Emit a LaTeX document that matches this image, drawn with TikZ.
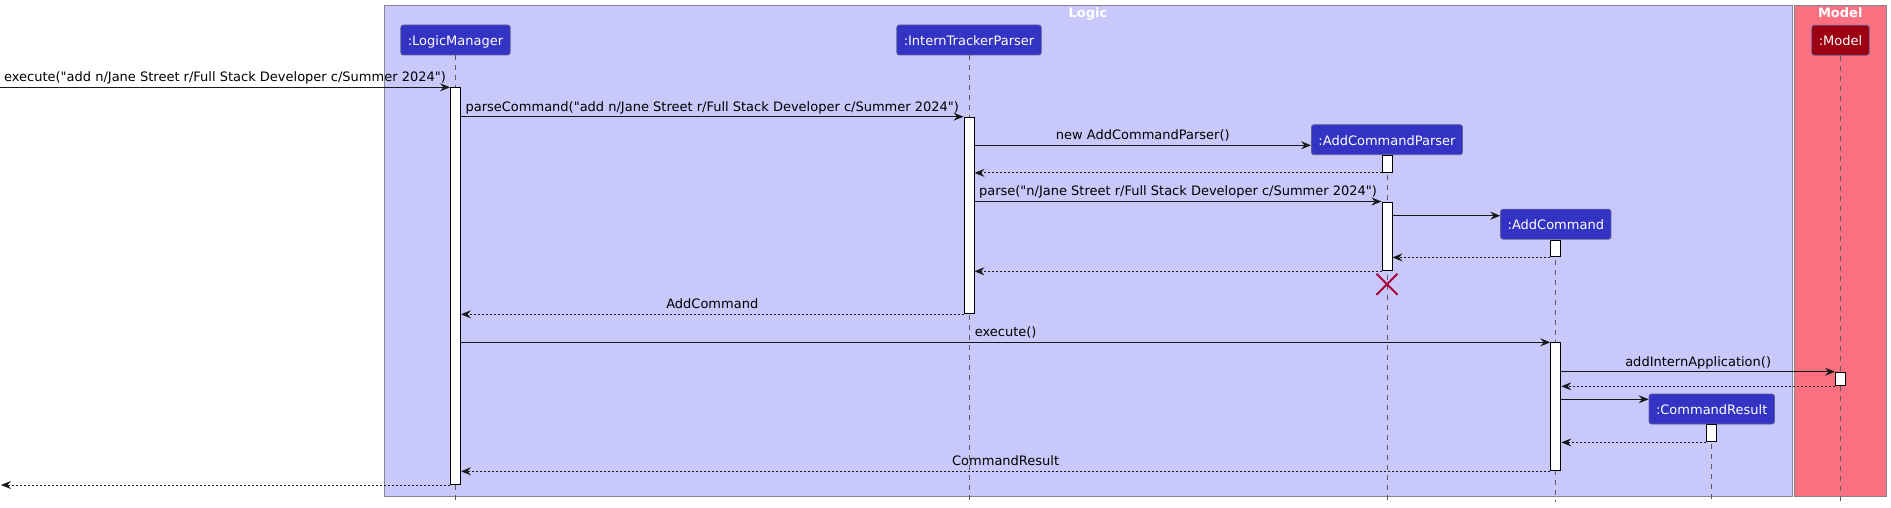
\documentclass[tikz,border=0pt]{standalone}
\usepackage{fontspec}
\setmainfont{DejaVu Sans}
\usetikzlibrary{arrows.meta,shapes.misc}
\definecolor{logicCol}{HTML}{3333C4}
\definecolor{logicBg}{HTML}{C8C8FA}
\definecolor{modelCol}{HTML}{9D0012}
\definecolor{modelBg}{HTML}{F97181}
\definecolor{frameCol}{HTML}{858592}
\definecolor{boxLine}{HTML}{5E5E9A}
\definecolor{lifeCol}{HTML}{5A5A5A}
\definecolor{destroyCol}{HTML}{A80036}
\newcommand{\qq}{\textquotedbl}
\tikzset{
  participant/.style={draw=boxLine, line width=0.8pt, fill=logicCol, text=white,
    rounded corners=2.5pt, minimum height=30pt, inner xsep=7pt,
    text height=11.4pt, text depth=0pt},
  modelpart/.style={participant, fill=modelCol},
  groupbox/.style={draw=frameCol, line width=1pt, inner sep=0pt},
  grouptitle/.style={text=white, font=\fontsize{13}{15}\selectfont\bfseries, anchor=base},
  lifeline/.style={draw=lifeCol, line width=1pt, dash pattern=on 5pt off 5pt},
  activation/.style={draw=black, fill=white, line width=1pt, minimum width=10pt,
    inner sep=0pt, anchor=north},
  call/.style={->, draw=black!90, line width=1pt},
  reply/.style={call, dash pattern=on 2pt off 2pt},
  msglabel/.style={anchor=base, yshift=5.5pt, inner sep=0pt},
  destroy/.style={cross out, draw=destroyCol, line width=2pt, minimum size=19pt, inner sep=0pt},
}
\begin{document}
\begin{tikzpicture}[>={Stealth[length=10pt,width=8pt,inset=3.5pt]},x=1pt,y=-1pt,
  font=\fontsize{13}{15}\selectfont]
\useasboundingbox (0,0) rectangle (1891,508);
%% rows of the messages
\coordinate (r2) at (0,116.7);
\coordinate (r3) at (0,145.3);
\coordinate (r5) at (0,201.5);
\coordinate (r6) at (0,215.7);
\coordinate (rx) at (0,284.3);
\coordinate (r10) at (0,342.3);
\coordinate (r11) at (0,371.7);
\coordinate (r13) at (0,399.3);
\coordinate (edgeIn) at (0,87.3);
\coordinate (edgeOut) at (1,484);
\coordinate (lifeEnd) at (0,501.5);
%% Group: Logic
\node[groupbox, fill=logicBg, minimum width=1408pt, minimum height=490pt] (logicGroup) at (1088,251) {};
\node[grouptitle] at ([yshift=-12.3pt]logicGroup.north) {Logic};
%% Group: Model
\node[groupbox, fill=modelBg, minimum width=92.5pt, minimum height=490pt] (modelGroup) at (1840.25,251) {};
\node[grouptitle] at ([yshift=-12.3pt]modelGroup.north) {Model};
%% Node: participants
\node[participant] (lm) at (455.5,40) {:LogicManager};
\node[participant] (itp) at (969,40) {:InternTrackerParser};
\node[participant] (acp) at (1387,139.7) {:AddCommandParser};
\node[participant] (ac) at (1555.8,224.2) {:AddCommand};
\node[participant] (cr) at (1711.7,409) {:CommandResult};
\node[modelpart] (model) at (1840.5,40.2) {:Model};
%% lifelines
\draw[lifeline] (lm.south) -- (lm.south |- lifeEnd);
\draw[lifeline] (itp.south) -- (itp.south |- lifeEnd);
\draw[lifeline] (acp.south) -- (acp.south |- lifeEnd);
\draw[lifeline] (ac.south) -- (ac.south |- lifeEnd);
\draw[lifeline] (cr.south) -- (cr.south |- lifeEnd);
\draw[lifeline] (model.south) -- (model.south |- lifeEnd);
%% activations
\node[activation, minimum height=396.7pt] (lmAct) at (lm.south |- edgeIn) {};
\node[activation, minimum height=196.6pt] (itpAct) at (itp.south |- r2) {};
\node[activation, minimum height=16.8pt] (acpActA) at (acp.south) {};
\node[activation, minimum height=68.8pt] (acpActB) at (acp.south |- r5) {};
\node[activation, minimum height=16.8pt] (acActA) at (ac.south) {};
\node[activation, minimum height=128pt] (acActB) at (ac.south |- r10) {};
\node[activation, minimum height=13.6pt] (modelAct) at (model.south |- r11) {};
\node[activation, minimum height=17pt] (crAct) at (cr.south) {};
% Edge: in -> LogicManager
\draw[call] (edgeIn) -- node[msglabel] {execute(\qq add n/Jane Street r/Full Stack Developer c/Summer 2024\qq)} (lmAct.north west);
% Edge: LogicManager -> InternTrackerParser
\draw[call] (lmAct.east |- r2) -- node[msglabel] {parseCommand(\qq add n/Jane Street r/Full Stack Developer c/Summer 2024\qq)} (itpAct.north west);
% Edge: InternTrackerParser -> AddCommandParser
\draw[call] (itpAct.east |- r3) -- node[msglabel] {new AddCommandParser()} (acp.west |- r3);
\draw[reply] (acpActA.south west) -- (itpAct.east |- acpActA.south);
\draw[call] (itpAct.east |- r5) -- node[msglabel] {parse(\qq n/Jane Street r/Full Stack Developer c/Summer 2024\qq)} (acpActB.north west);
% Edge: AddCommandParser -> AddCommand
\draw[call] (acpActB.east |- r6) -- (ac.west |- r6);
\draw[reply] (acActA.south west) -- (acpActB.east |- acActA.south);
\draw[reply] (acpActB.south west) -- (itpAct.east |- acpActB.south);
\node[destroy] (acpGone) at (acp.south |- rx) {};
% Edge: InternTrackerParser -> LogicManager
\draw[reply] (itpAct.south west) -- node[msglabel] {AddCommand} (lmAct.east |- itpAct.south);
% Edge: LogicManager -> AddCommand
\draw[call] (lmAct.east |- r10) -- node[msglabel] {execute()} (acActB.north west);
% Edge: AddCommand -> Model
\draw[call] (acActB.east |- r11) -- node[msglabel] {addInternApplication()} (modelAct.north west);
\draw[reply] (modelAct.south west) -- (acActB.east |- modelAct.south);
% Edge: AddCommand -> CommandResult
\draw[call] (acActB.east |- r13) -- (cr.west |- r13);
\draw[reply] (crAct.south west) -- (acActB.east |- crAct.south);
% Edge: AddCommand -> LogicManager
\draw[reply] (acActB.south west) -- node[msglabel] {CommandResult} (lmAct.east |- acActB.south);
% Edge: LogicManager -> out
\draw[reply] (lmAct.south west) -- (edgeOut |- lmAct.south);
\end{tikzpicture}
\end{document}
